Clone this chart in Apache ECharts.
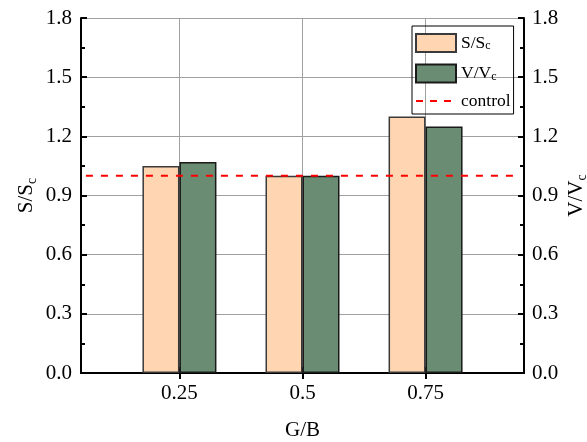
<!DOCTYPE html>
<html><head><meta charset="utf-8">
<script src="https://cdn.jsdelivr.net/npm/echarts@6/dist/echarts.min.js"></script>
<style>html,body{margin:0;padding:0;background:#fff}#c{width:587px;height:442px}</style>
</head><body><div id="c"></div>
<script>
const categories = [0.25, 0.5, 0.75];
const sValues = [1.05, 1.0, 1.3];
const vValues = [1.07, 1.0, 1.25];
const controlValue = 1.0;
const controlRange = [0.06, 0.94];
const xTicks = [0.25, 0.5, 0.75];

const FONT = 'Liberation Serif';
const FS = 21;
const rich = {
  n: {fontFamily: FONT, fontSize: FS, color: '#000'},
  s: {fontFamily: FONT, fontSize: 14, color: '#000', verticalAlign: 'bottom', padding: [12, 0, 0, 0]}
};
const legendRich = {
  n: {fontFamily: FONT, fontSize: 17.5, color: '#000', lineHeight: 18},
  s: {fontFamily: FONT, fontSize: 12, color: '#000', lineHeight: 18, verticalAlign: 'bottom', padding: [9, 0, 0, 0]}
};
const chart = echarts.init(document.getElementById('c'), null, {renderer: 'canvas'});
const axisLine = {show: true, lineStyle: {color: '#000', width: 2}};
chart.setOption({
  animation: false,
  grid: {left: 81, right: 63, top: 18, bottom: 69, containLabel: false, outerBoundsMode: 'none'},
  legend: {
    orient: 'vertical', left: 412, top: 26,
    borderColor: '#000', borderWidth: 1, padding: [5, 3, 4, 3],
    itemWidth: 40, itemHeight: 18, itemGap: 8.5,
    textStyle: {fontFamily: FONT, fontSize: 17.5, color: '#000', rich: legendRich},
    formatter: function (name) {
      if (name === 'S/Sc') return '{n|S/S}{s|c}';
      if (name === 'V/Vc') return '{n|V/V}{s|c}';
      return '{n|' + name + '}';
    },
    data: [{name: 'S/Sc', icon: 'rect'}, {name: 'V/Vc', icon: 'rect'},
      {name: 'control', itemStyle: {opacity: 0, borderWidth: 0},
       lineStyle: {color: '#ff0000', width: 2, type: [7, 7]}}]
  },
  xAxis: [{
    type: 'value', min: 0.05, max: 0.95, position: 'bottom',
    name: '{n|G/B}', nameLocation: 'middle', nameGap: 47, nameMoveOverlap: false,
    nameTextStyle: {rich: rich},
    axisLine: axisLine,
    axisTick: {show: true, inside: true, length: 6, lineStyle: {color: '#000', width: 2}, customValues: xTicks},
    axisLabel: {customValues: xTicks, fontFamily: FONT, fontSize: FS, color: '#000', margin: 10,
      formatter: function (v) { return String(v); }},
    splitLine: {show: true, lineStyle: {color: '#a0a0a0', width: 1}}
  }, {
    type: 'value', min: 0.05, max: 0.95, position: 'top',
    axisLine: axisLine,
    axisTick: {show: true, inside: true, length: 6, lineStyle: {color: '#000', width: 2}, customValues: xTicks},
    axisLabel: {show: false, customValues: xTicks},
    splitLine: {show: false}
  }],
  yAxis: [{
    type: 'value', min: 0, max: 1.8, interval: 0.3, position: 'left',
    name: '{n|S/S}{s|c}', nameLocation: 'middle', nameGap: 42, nameRotate: 90, nameMoveOverlap: false,
    nameTextStyle: {rich: rich},
    axisLine: axisLine,
    axisTick: {show: true, inside: true, length: 6, lineStyle: {color: '#000', width: 2}},
    minorTick: {show: true, splitNumber: 2, length: 4, lineStyle: {color: '#000', width: 2}},
    axisLabel: {fontFamily: FONT, fontSize: FS, color: '#000', margin: 9,
      formatter: function (v) { return v.toFixed(1); }},
    splitLine: {show: true, lineStyle: {color: '#a0a0a0', width: 1}}
  }, {
    type: 'value', min: 0, max: 1.8, interval: 0.3, position: 'right',
    name: '{n|V/V}{s|c}', nameLocation: 'middle', nameGap: 39, nameRotate: 90, nameMoveOverlap: false,
    nameTextStyle: {rich: rich},
    axisLine: axisLine,
    axisTick: {show: true, inside: true, length: 6, lineStyle: {color: '#000', width: 2}},
    minorTick: {show: true, splitNumber: 2, length: 4, lineStyle: {color: '#000', width: 2}},
    axisLabel: {fontFamily: FONT, fontSize: FS, color: '#000', margin: 8,
      formatter: function (v) { return v.toFixed(1); }},
    splitLine: {show: false}
  }],
  series: [{
    name: 'S/Sc', type: 'bar', xAxisIndex: 0, yAxisIndex: 0,
    barWidth: 37, barGap: '0%',
    itemStyle: {color: '#FFD6B1', borderColor: '#3a3a3a', borderWidth: 1.5},
    data: categories.map((c, i) => [c, sValues[i]])
  }, {
    name: 'V/Vc', type: 'bar', xAxisIndex: 0, yAxisIndex: 0,
    barWidth: 37, barGap: '0%',
    itemStyle: {color: '#6A8C72', borderColor: '#1a1a1a', borderWidth: 1.5},
    data: categories.map((c, i) => [c, vValues[i]])
  }, {
    name: 'control', type: 'line', xAxisIndex: 0, yAxisIndex: 0,
    symbol: 'none', showSymbol: false, z: 5,
    lineStyle: {color: '#ff0000', width: 2, type: [7, 8]},
    itemStyle: {color: '#ff0000'},
    data: controlRange.map(x => [x, controlValue])
  }]
});
</script></body></html>
